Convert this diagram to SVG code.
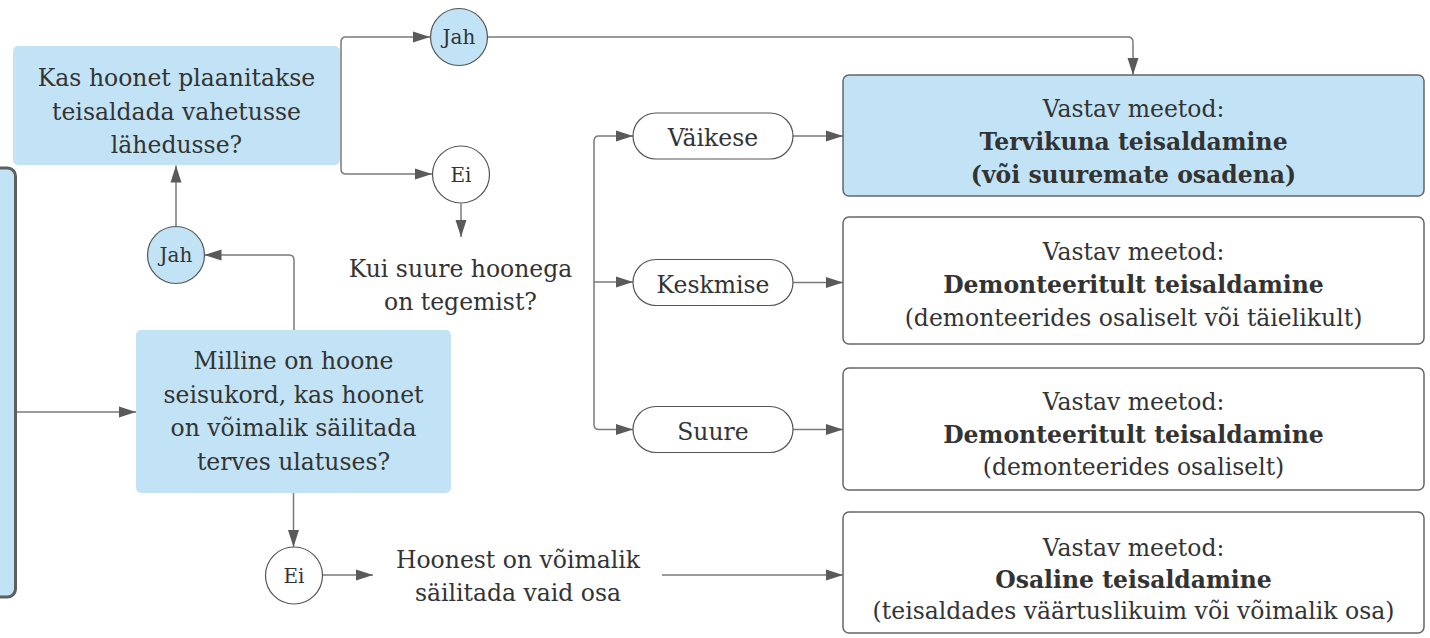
<svg xmlns="http://www.w3.org/2000/svg" width="1430" height="638" viewBox="0 0 1430 638">
<style>
.t{font-family:"DejaVu Serif","Liberation Serif",serif;font-size:23.5px;fill:#333;text-anchor:middle}
.b{font-weight:bold}
.s{font-size:20px}
.blue{fill:#c2e3f5}
.q{fill:#c2e3f5;stroke:none}
.box{stroke:#666;stroke-width:1.5}
.pill{fill:#fff;stroke:#555;stroke-width:1.2}
.cb{fill:#c2e3f5;stroke:#555;stroke-width:1.2}
.cw{fill:#fff;stroke:#555;stroke-width:1.2}
.c{fill:none;stroke:#7a7a7a;stroke-width:1.5}
</style>
<defs>
<marker id="a" markerUnits="userSpaceOnUse" markerWidth="17" markerHeight="12" refX="17" refY="6" orient="auto">
<path d="M0,0.5 L17,6 L0,11.5 z" fill="#5a5a5a"/>
</marker>
</defs>
<rect width="1430" height="638" fill="#fff"/>

<g id="connectors" class="c" marker-end="url(#a)">
<path d="M341,106 V42 Q341,37 346,37 H430"/>
<path d="M341,106 V169 Q341,174 346,174 H432"/>
<path d="M487.5,37 H1128 Q1133,37 1133,42 V75"/>
<path d="M461,203.5 V237"/>
<path d="M594,282 V141 Q594,136 599,136 H633"/>
<path d="M594,282 H633"/>
<path d="M594,282 V424.5 Q594,429.5 599,429.5 H633"/>
<path d="M793,136 H843"/>
<path d="M793,282.5 H843"/>
<path d="M793,429.5 H843"/>
<path d="M16,412 H136"/>
<path d="M294,330 V260 Q294,255 289,255 H204.5"/>
<path d="M176,226.5 V165.5"/>
<path d="M293.5,493 V547"/>
<path d="M322.5,575 H373"/>
<path d="M662,575 H843"/>
</g>

<g id="left-box">
<rect x="-20" y="168" width="35.5" height="429" rx="8" fill="#c2e3f5" stroke="#5f5f5f" stroke-width="3"/>
</g>

<g id="kas-hoonet">
<rect class="q" x="13" y="46" width="327" height="119" rx="5"/>
<text class="t" x="176.5" y="86">Kas hoonet plaanitakse</text>
<text class="t" x="176.5" y="119.5">teisaldada vahetusse</text>
<text class="t" x="176.5" y="153">lähedusse?</text>
</g>

<g id="jah-top">
<circle class="cb" cx="459" cy="37" r="28.5"/>
<text class="t s" x="459" y="44">Jah</text>
</g>

<g id="ei-top">
<circle class="cw" cx="461" cy="174.5" r="28.5"/>
<text class="t s" x="461" y="181.5">Ei</text>
</g>

<g id="kui-suure">
<text class="t" x="460.5" y="277">Kui suure hoonega</text>
<text class="t" x="460.5" y="310">on tegemist?</text>
</g>

<g id="jah-mid">
<circle class="cb" cx="176" cy="255" r="28.5"/>
<text class="t s" x="176" y="262">Jah</text>
</g>

<g id="milline">
<rect class="q" x="136" y="330" width="315" height="163" rx="5"/>
<text class="t" x="293.5" y="369">Milline on hoone</text>
<text class="t" x="293.5" y="402.5">seisukord, kas hoonet</text>
<text class="t" x="293.5" y="436">on võimalik säilitada</text>
<text class="t" x="293.5" y="469.5">terves ulatuses?</text>
</g>

<g id="ei-bottom">
<circle class="cw" cx="294" cy="575.5" r="28.5"/>
<text class="t s" x="294" y="582.5">Ei</text>
</g>

<g id="hoonest">
<text class="t" x="518" y="568">Hoonest on võimalik</text>
<text class="t" x="518" y="601">säilitada vaid osa</text>
</g>

<g id="vaikese">
<rect class="pill" x="633" y="113" width="160" height="46" rx="23"/>
<text class="t" x="713" y="146">Väikese</text>
</g>
<g id="keskmise">
<rect class="pill" x="633" y="259.5" width="160" height="46" rx="23"/>
<text class="t" x="713" y="292.5">Keskmise</text>
</g>
<g id="suure">
<rect class="pill" x="633" y="406.5" width="160" height="46" rx="23"/>
<text class="t" x="713" y="439.5">Suure</text>
</g>

<g id="box-tervikuna">
<rect class="box" x="843" y="75" width="581" height="121" rx="6" fill="#c2e3f5"/>
<text class="t" x="1133.5" y="117">Vastav meetod:</text>
<text class="t b" x="1133.5" y="150">Tervikuna teisaldamine</text>
<text class="t b" x="1133.5" y="183">(või suuremate osadena)</text>
</g>
<g id="box-demont1">
<rect class="box" x="843" y="217" width="581" height="127" rx="6" fill="#fff"/>
<text class="t" x="1133.5" y="260">Vastav meetod:</text>
<text class="t b" x="1133.5" y="293">Demonteeritult teisaldamine</text>
<text class="t" x="1133.5" y="326">(demonteerides osaliselt või täielikult)</text>
</g>
<g id="box-demont2">
<rect class="box" x="843" y="368" width="581" height="122" rx="6" fill="#fff"/>
<text class="t" x="1133.5" y="410">Vastav meetod:</text>
<text class="t b" x="1133.5" y="443">Demonteeritult teisaldamine</text>
<text class="t" x="1133.5" y="475">(demonteerides osaliselt)</text>
</g>
<g id="box-osaline">
<rect class="box" x="843" y="512" width="581" height="121" rx="6" fill="#fff"/>
<text class="t" x="1133.5" y="556">Vastav meetod:</text>
<text class="t b" x="1133.5" y="588">Osaline teisaldamine</text>
<text class="t" x="1133.5" y="619">(teisaldades väärtuslikuim või võimalik osa)</text>
</g>
</svg>
